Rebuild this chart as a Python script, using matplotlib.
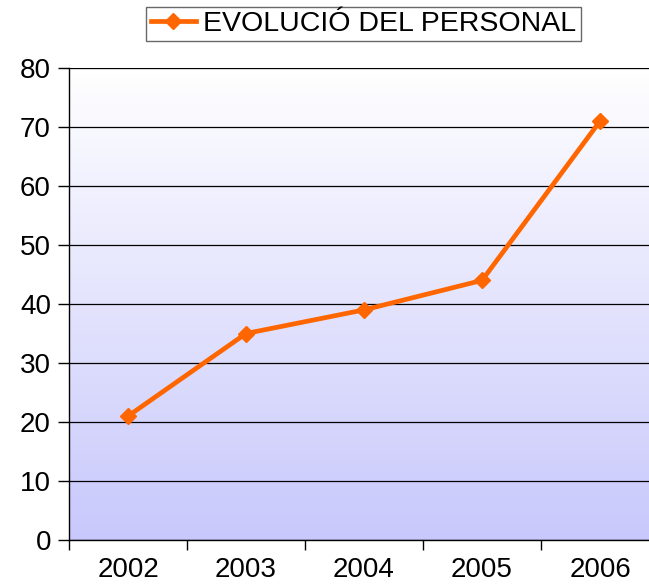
import numpy as np
import matplotlib.pyplot as plt
from matplotlib.colors import LinearSegmentedColormap

# Dades
anys = ['2002', '2003', '2004', '2005', '2006']
personal = [21, 35, 39, 44, 71]
serie = 'EVOLUCIÓ DEL PERSONAL'

plt.rcParams['font.family'] = ['Liberation Sans', 'DejaVu Sans']

fig = plt.figure(figsize=(6.49, 5.84), dpi=100)
ax = fig.add_axes([69/649, 44/584, 1 - 69/649, (540-68)/584])

# fons degradat blanc -> lila
cmap = LinearSegmentedColormap.from_list('fons', ['#c8c8fc', '#ffffff'])
grad = np.linspace(0, 1, 256).reshape(-1, 1)
ax.imshow(grad, cmap=cmap, aspect='auto', extent=[0, 1, 0, 1],
          transform=ax.transAxes, origin='lower', zorder=0)

x = np.arange(len(anys))
ax.plot(x, personal, color='#ff6600', lw=3.4, marker='D', ms=8,
        label=serie, zorder=3)

ax.set_yticks(range(0, 81, 10))
ax.yaxis.grid(True, color='black', lw=0.9, zorder=1)
ax.set_axisbelow(False)

# etiquetes a les categories, marques a les vores
ax.set_xticks(x)
ax.set_xticklabels(anys)
ax.set_xticks(np.arange(-0.5, 4.4, 1), minor=True)
ax.tick_params(axis='x', which='major', length=0, labelsize=20, pad=12)
ax.tick_params(axis='x', which='minor', length=7, width=1, direction='out')
ax.tick_params(axis='y', length=8, width=1, labelsize=20, pad=5)

ax.set_ylim(0, 80)
ax.set_xlim(-0.5, 4.415)

for s in ['left', 'bottom']:
    ax.spines[s].set_color('black')
    ax.spines[s].set_linewidth(1)
ax.spines['top'].set_color('#999999')
ax.spines['top'].set_linewidth(0.8)
ax.spines['right'].set_visible(False)

leg = fig.legend(loc='center', bbox_to_anchor=(363.5/649, 1 - 24/584),
                 fontsize=20.5, frameon=True, fancybox=False, shadow=False,
                 handlelength=1.6, borderpad=0.15, handletextpad=0.25,
                 borderaxespad=0)
leg.get_frame().set_edgecolor('#444444')
leg.get_frame().set_linewidth(1)

fig.savefig('out.png', dpi=100)
